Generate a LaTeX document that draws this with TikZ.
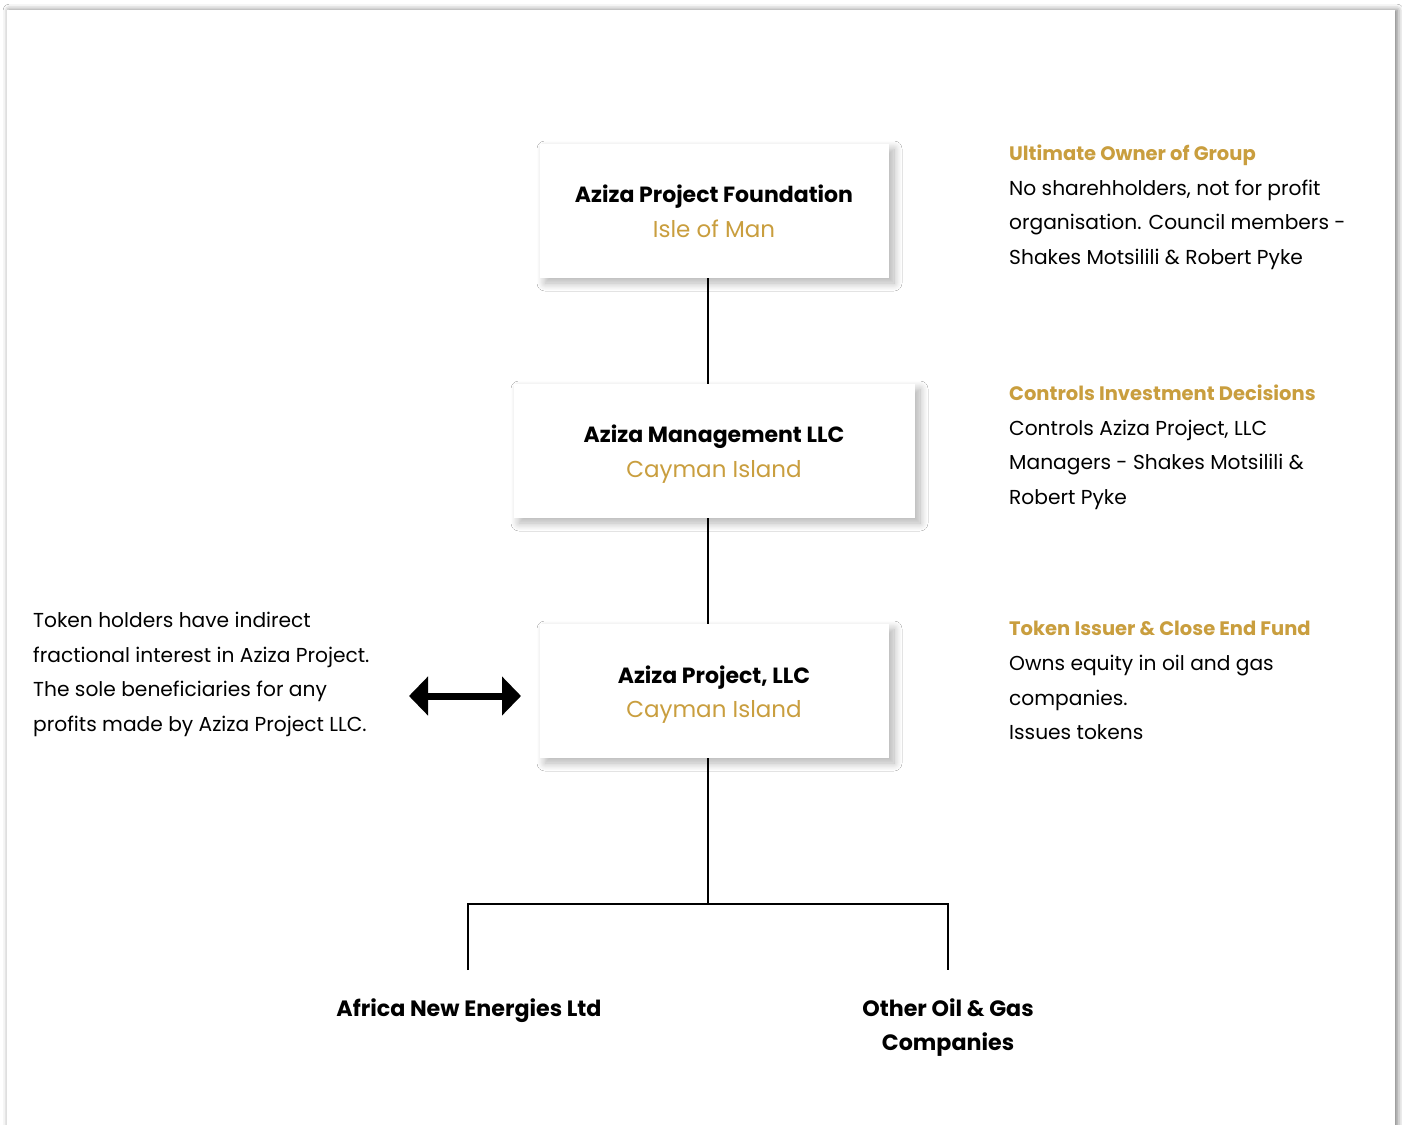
\documentclass[tikz,border=0pt]{standalone}
\usepackage{fontspec}
\setmainfont{Poppins}
\usetikzlibrary{shadows.blur,arrows.meta}
\definecolor{gold}{RGB}{201,158,62}
\begin{document}
\begin{tikzpicture}[x=1pt,y=-1pt,
  orgbox/.style={fill=white, minimum height=134pt, inner sep=0pt,
    blur shadow={shadow xshift=5pt, shadow yshift=-5pt, shadow blur radius=8pt, shadow blur steps=10, shadow opacity=30}},
  boxtitle/.style={anchor=base, inner sep=0pt, font=\fontsize{22}{26}\selectfont\bfseries},
  boxsub/.style={anchor=base, inner sep=0pt, text=gold, font=\fontsize{23}{26}\selectfont},
  sidehead/.style={anchor=base west, inner sep=0pt, text=gold, font=\fontsize{19.5}{24}\selectfont\bfseries},
  sidetext/.style={anchor=base west, inner sep=0pt, font=\fontsize{20.2}{24}\selectfont},
  bottomlabel/.style={anchor=base, inner sep=0pt, font=\fontsize{22.2}{26}\selectfont\bfseries},
  link/.style={line width=2pt, draw=black},
  bigarrow/.style={line width=7pt, {Triangle[length=19pt,width=38pt]}-{Triangle[length=19pt,width=38pt]}}
]
\useasboundingbox (0,0) rectangle (1402,1124);
\fill[white] (0,0) rectangle (1402,1124);
\node[fill=white, inner sep=0pt, minimum width=1388pt, minimum height=1130pt, anchor=north west,
  blur shadow={shadow xshift=2pt, shadow yshift=0pt, shadow blur radius=6pt, shadow opacity=55}] (page) at (7,10) {};

% boxes
\node[orgbox, minimum width=349pt] (b1) at (714.5,211) {};
\node[orgbox, minimum width=401pt] (b2) at (714.5,451) {};
\node[orgbox, minimum width=349pt] (b3) at (714.5,691) {};

\node[boxtitle] (b1t) at (714,202) {Aziza Project Foundation};
\node[boxsub] (b1s) at (714,237) {Isle of Man};
\node[boxtitle] (b2t) at (714,442) {Aziza Management LLC};
\node[boxsub] (b2s) at (714,477) {Cayman Island};
\node[boxtitle] (b3t) at (714,683) {Aziza Project, LLC};
\node[boxsub] (b3s) at (714,717) {Cayman Island};

% connectors
\coordinate (j) at (708,904);
\coordinate (ja) at (468,904);
\coordinate (jb) at (948,904);
\coordinate (ea) at (468,970);
\coordinate (eb) at (948,970);
\draw[link] ([xshift=-6.5pt]b1.south) -- ([xshift=-6.5pt]b2.north);
\draw[link] ([xshift=-6.5pt]b2.south) -- ([xshift=-6.5pt]b3.north);
\draw[link] ([xshift=-6.5pt]b3.south) -- (j);
\draw[link] (ea) -- (ja) -- (jb) -- (eb);

% bottom labels
\node[bottomlabel] (l1) at (469,1016) {Africa New Energies Ltd};
\node[bottomlabel] (l2a) at (948,1016) {Other Oil \& Gas};
\node[bottomlabel] (l2b) at (948,1050) {Companies};

% arrow
\coordinate (al) at (409,696);
\coordinate (ar) at (521,696);
\draw[bigarrow] (al) -- (ar);

% left text
\node[sidetext] (t1) at (33,627) {Token holders have indirect};
\node[sidetext] (t2) at (33,662) {fractional interest in Aziza Project.};
\node[sidetext] (t3) at (33,696) {The sole beneficiaries for any};
\node[sidetext] (t4) at (33,731) {profits made by Aziza Project LLC.};

% right texts
\node[sidehead] (r1h) at (1009,160) {Ultimate Owner of Group};
\node[sidetext] (r1a) at (1009,195) {No sharehholders, not for profit};
\node[sidetext] (r1b) at (1009,229.5) {organisation. Council members -};
\node[sidetext] (r1c) at (1009,264) {Shakes Motsilili \& Robert Pyke};

\node[sidehead] (r2h) at (1009,400) {Controls Investment Decisions};
\node[sidetext] (r2a) at (1009,435) {Controls Aziza Project, LLC};
\node[sidetext] (r2b) at (1009,469.5) {Managers - Shakes Motsilili \&};
\node[sidetext] (r2c) at (1009,504) {Robert Pyke};

\node[sidehead] (r3h) at (1009,635) {Token Issuer \& Close End Fund};
\node[sidetext] (r3a) at (1009,670) {Owns equity in oil and gas};
\node[sidetext] (r3b) at (1009,705) {companies.};
\node[sidetext] (r3c) at (1009,739) {Issues tokens};
\end{tikzpicture}
\end{document}
